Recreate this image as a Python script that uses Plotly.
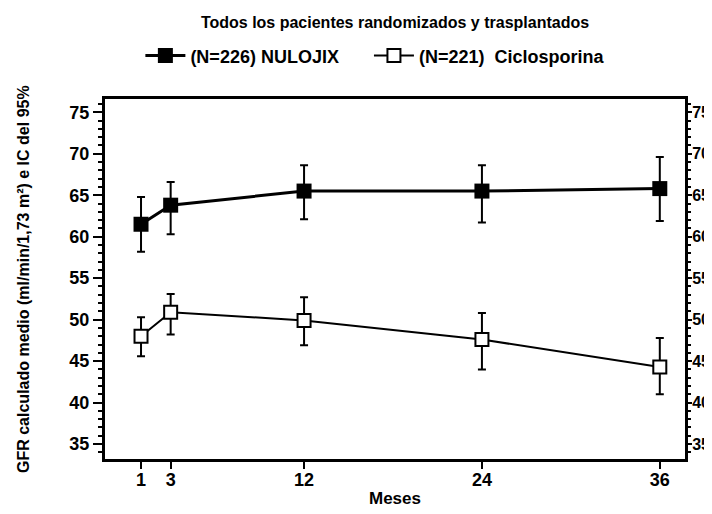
import plotly.graph_objects as go

months = [1, 3, 12, 24, 36]
nulojix_mean = [61.5, 63.8, 65.5, 65.5, 65.8]
nulojix_lo = [58.2, 60.3, 62.1, 61.7, 61.9]
nulojix_hi = [64.8, 66.6, 68.6, 68.6, 69.6]
ciclo_mean = [48.0, 50.9, 49.9, 47.6, 44.3]
ciclo_lo = [45.6, 48.2, 46.9, 44.0, 41.0]
ciclo_hi = [50.3, 53.1, 52.7, 50.8, 47.8]
x_ticks = [1, 3, 12, 24, 36]
y_ticks = [35, 40, 45, 50, 55, 60, 65, 70, 75]

FONT = "Liberation Sans, Arial, sans-serif"

def plus(m, h):
    return [b - a for a, b in zip(m, h)]

def minus(m, l):
    return [a - b for a, b in zip(m, l)]

fig = go.Figure()
fig.add_trace(go.Scatter(
    x=months, y=nulojix_mean, mode="lines+markers",
    name="(N=226) NULOJIX" + "\u00a0" * 5,
    line=dict(color="black", width=3),
    marker=dict(symbol="square", size=15, color="black"),
    error_y=dict(type="data", array=plus(nulojix_mean, nulojix_hi),
                 arrayminus=minus(nulojix_mean, nulojix_lo),
                 color="black", thickness=2, width=4),
))
fig.add_trace(go.Scatter(
    x=months, y=ciclo_mean, mode="lines+markers",
    name="(N=221)\u00a0 Ciclosporina",
    line=dict(color="black", width=2),
    marker=dict(symbol="square", size=13, color="white",
                line=dict(color="black", width=2)),
    error_y=dict(type="data", array=plus(ciclo_mean, ciclo_hi),
                 arrayminus=minus(ciclo_mean, ciclo_lo),
                 color="black", thickness=2, width=4),
))
# invisible trace to activate the right-hand axis
fig.add_trace(go.Scatter(x=[months[0]], y=[nulojix_mean[0]], yaxis="y2",
                         mode="markers", marker=dict(opacity=0),
                         showlegend=False, hoverinfo="skip"))

yrange = [33.2, 76.6]
yaxis_left = dict(
    range=yrange, tickvals=y_ticks, ticks="outside", ticklen=9, tickwidth=2,
    tickcolor="black", showline=True, linewidth=3, linecolor="black",
    showgrid=False, zeroline=False, automargin=False,
    tickfont=dict(family=FONT, size=18, color="black", weight="bold"),
    minor=dict(ticks="outside", dtick=1, ticklen=4, tickwidth=2, tickcolor="black",
               showgrid=False),
)
yaxis_right = dict(
    range=yrange, tickvals=y_ticks, ticks="outside", ticklen=4, tickwidth=2,
    tickcolor="black", showline=True, linewidth=3, linecolor="black",
    showgrid=False, zeroline=False, automargin=False, ticklabelstandoff=-3,
    tickfont=dict(family=FONT, size=16, color="black", weight="bold"),
    minor=dict(ticks="outside", dtick=1, ticklen=3, tickwidth=2, tickcolor="black",
               showgrid=False),
    overlaying="y", side="right", matches="y",
)

fig.update_layout(
    width=712, height=514,
    margin=dict(l=97, r=35, t=91, b=63),
    paper_bgcolor="white", plot_bgcolor="white",
    font=dict(family=FONT, color="black"),
    title=dict(text="Todos los pacientes randomizados y trasplantados",
               x=(97 + 677) / 2 / 712, xanchor="center",
               y=1 - 9 / 514, yanchor="top",
               font=dict(family=FONT, size=16, color="black", weight="bold")),
    legend=dict(orientation="h", x=0.061, xanchor="left", y=1.12, yanchor="middle",
                font=dict(family=FONT, size=18, color="black", weight="bold"),
                bgcolor="rgba(0,0,0,0)", itemwidth=40),
    xaxis=dict(
        range=[-1.43, 37.7], tickvals=x_ticks, ticktext=[str(v) for v in x_ticks],
        ticks="outside", ticklen=7, tickwidth=2, tickcolor="black",
        showline=True, linewidth=3, linecolor="black", mirror=True,
        showgrid=False, zeroline=False, automargin=False, ticklabelstandoff=-5,
        tickfont=dict(family=FONT, size=18, color="black", weight="bold"),
        title=dict(text="Meses", standoff=4,
                   font=dict(family=FONT, size=17, color="black", weight="bold")),
    ),
    yaxis=yaxis_left,
    yaxis2=yaxis_right,
    annotations=[dict(
        text="GFR calculado medio (ml/min/1,73 m²) e IC del 95%",
        xref="paper", yref="paper", x=(15 - 97) / 580, y=0.5,
        xanchor="center", yanchor="middle", textangle=-90, showarrow=False,
        font=dict(family=FONT, size=16, color="black", weight="bold"),
    )],
)

fig.write_html("out.html")
